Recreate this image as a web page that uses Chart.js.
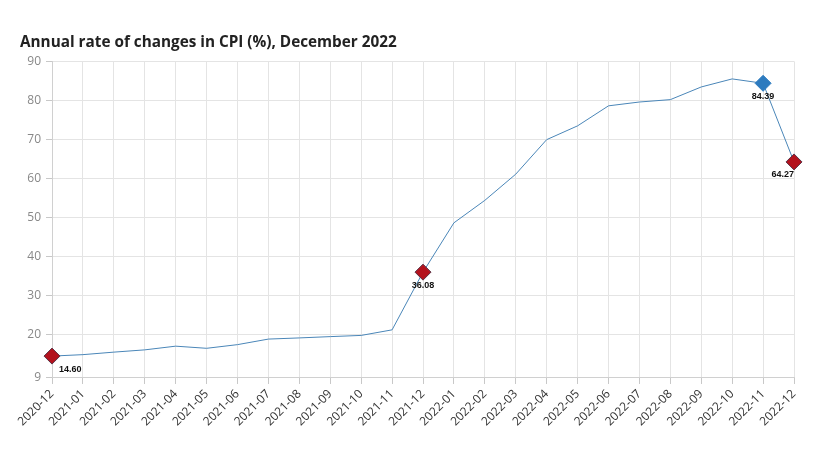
<!DOCTYPE html>
<html>
<head>
<meta charset="utf-8">
<script src="https://cdn.jsdelivr.net/npm/chart.js@4"></script>
<style>
  html, body { margin: 0; padding: 0; background: #fff; }
</style>
</head>
<body>
<canvas id="cpiChart" width="827" height="470"></canvas>
<script>
const months = ['2020-12', '2021-01', '2021-02', '2021-03', '2021-04', '2021-05', '2021-06',
  '2021-07', '2021-08', '2021-09', '2021-10', '2021-11', '2021-12', '2022-01', '2022-02',
  '2022-03', '2022-04', '2022-05', '2022-06', '2022-07', '2022-08', '2022-09', '2022-10',
  '2022-11', '2022-12'];
const cpiRate = [14.60, 14.97, 15.61, 16.19, 17.14, 16.59, 17.53, 18.95, 19.25, 19.58, 19.89,
  21.31, 36.08, 48.69, 54.44, 61.14, 69.97, 73.50, 78.62, 79.60, 80.21, 83.45, 85.51, 84.39, 64.27];
const yTicks = [9, 20, 30, 40, 50, 60, 70, 80, 90];
// points that get a marker and a value label
const redPoints = ['2020-12', '2021-12', '2022-12'];
const bluePoints = ['2022-11'];

const RED = '#b3121d';
const BLUE = '#2d7bbf';

function isMarked(i) {
  return redPoints.includes(months[i]) || bluePoints.includes(months[i]);
}

// draws the value under each marked point
const valueLabels = {
  id: 'valueLabels',
  afterDatasetsDraw(chart) {
    const ctx = chart.ctx;
    const area = chart.chartArea;
    const meta = chart.getDatasetMeta(0);
    ctx.save();
    ctx.font = 'bold 9px Arial';
    ctx.fillStyle = '#111';
    ctx.textBaseline = 'middle';
    meta.data.forEach((pt, i) => {
      if (!isMarked(i)) return;
      const txt = cpiRate[i].toFixed(2);
      const w = ctx.measureText(txt).width;
      let x = pt.x - w / 2;
      if (x < area.left + 7) x = area.left + 7;
      if (x + w > area.right) x = area.right - w;
      ctx.textAlign = 'left';
      ctx.fillText(txt, x, pt.y + 13);
    });
    ctx.restore();
  }
};

new Chart('cpiChart', {
  type: 'line',
  data: {
    labels: months,
    datasets: [{
      data: cpiRate,
      borderColor: '#4a86b8',
      borderWidth: 1,
      tension: 0,
      fill: false,
      pointStyle: 'rectRot',
      pointRadius: ctx => isMarked(ctx.dataIndex) ? 8 : 0,
      pointHoverRadius: 0,
      pointBackgroundColor: ctx => bluePoints.includes(months[ctx.dataIndex]) ? BLUE : RED,
      pointBorderColor: ctx => bluePoints.includes(months[ctx.dataIndex]) ? BLUE : '#5c3346',
      pointBorderWidth: 1
    }]
  },
  options: {
    responsive: false,
    animation: false,
    layout: { padding: { left: 20, right: 33, top: 0, bottom: 38 } },
    plugins: {
      legend: { display: false },
      tooltip: { enabled: false },
      title: {
        display: true,
        text: 'Annual rate of changes in CPI (%), December 2022',
        align: 'start',
        color: '#222',
        font: { family: 'Open Sans', size: 15.3, weight: 'bold', lineHeight: 1.2 },
        padding: { top: 33, bottom: 10 }
      }
    },
    scales: {
      x: {
        grid: { color: '#e4e4e4', tickLength: 6, tickColor: '#c8c8c8' },
        border: { color: '#d0d0d0' },
        ticks: {
          color: '#333',
          font: { family: 'Open Sans', size: 12 },
          maxRotation: 45,
          minRotation: 45,
          autoSkip: false
        }
      },
      y: {
        min: 9,
        max: 90,
        afterBuildTicks: axis => { axis.ticks = yTicks.map(v => ({ value: v })); },
        afterFit: axis => { axis.width = 32; },
        grid: { color: '#e4e4e4', tickLength: 6, tickColor: '#c8c8c8' },
        border: { color: '#d0d0d0' },
        ticks: {
          color: '#888',
          font: { family: 'Open Sans', size: 12 },
          padding: 5
        }
      }
    }
  },
  plugins: [valueLabels]
});
</script>
</body>
</html>
